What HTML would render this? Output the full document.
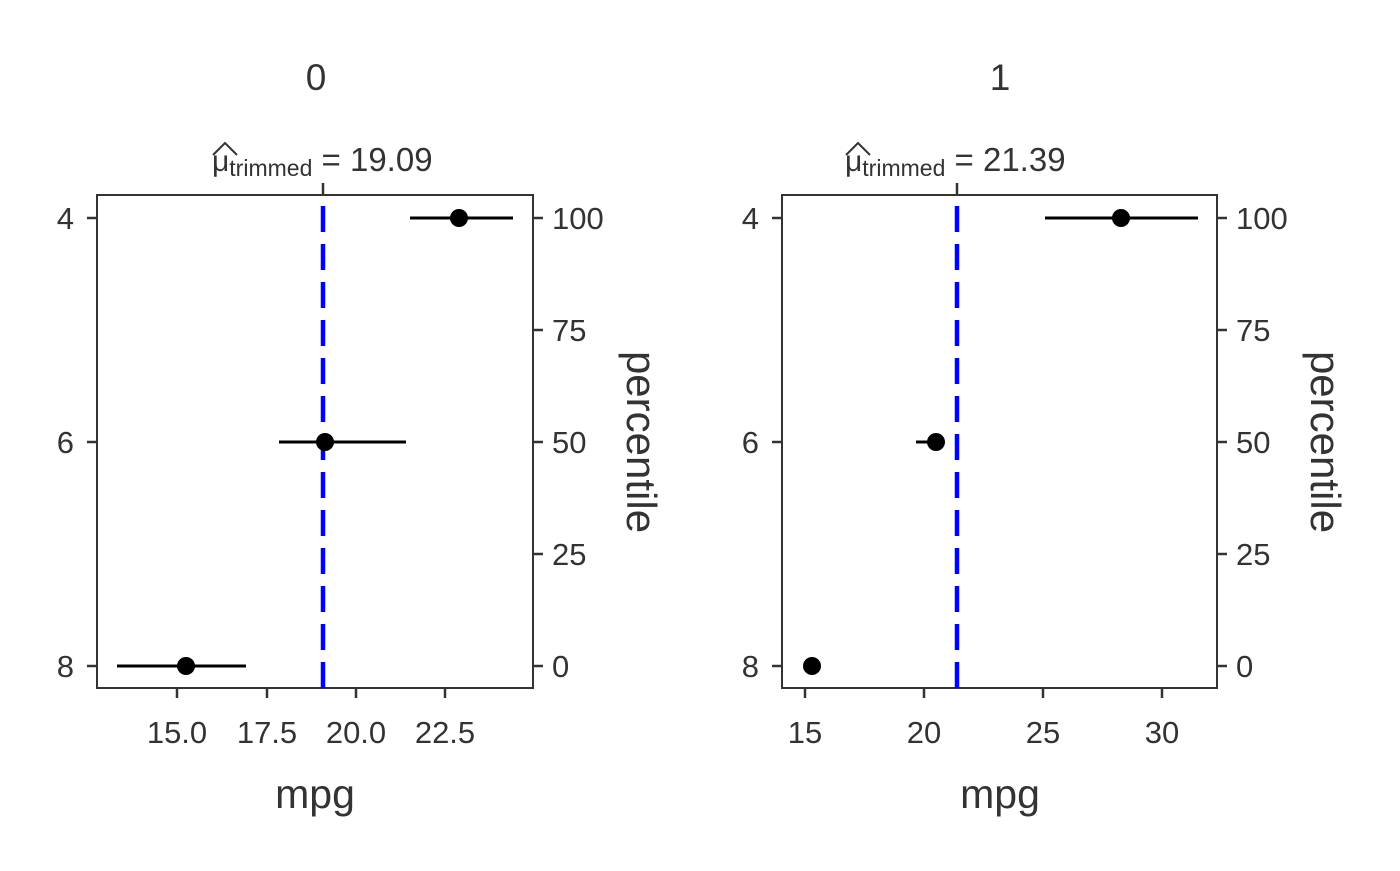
<!DOCTYPE html>
<html><head><style>body{margin:0;background:#fff}</style></head><body>
<svg width="1400" height="866" xmlns="http://www.w3.org/2000/svg" font-family="Liberation Sans, sans-serif" fill="#333">
<rect width="1400" height="866" fill="#fff"/>
<g id="p1">
<text x="316" y="90" font-size="37" text-anchor="middle">0</text>
<text x="212" y="171" font-size="30">μ<tspan font-size="23" dy="5">trimmed</tspan><tspan font-size="33" dy="-5"> = 19.09</tspan></text>
<path d="M213 155 L225 143 L237 155" fill="none" stroke="#333" stroke-width="2"/>
<line x1="323" y1="183" x2="323" y2="195" stroke="#333" stroke-width="2.5"/>
<rect x="97" y="195" width="436" height="493" fill="none" stroke="#333" stroke-width="2"/>
<line x1="323" y1="688" x2="323" y2="195" stroke="#00f" stroke-width="4.5" stroke-dasharray="26 12"/>
<g stroke="#000" stroke-width="3"><line x1="410" y1="218" x2="513" y2="218"/><line x1="279" y1="442" x2="406" y2="442"/><line x1="117" y1="666" x2="246" y2="666"/></g>
<g fill="#000"><circle cx="459" cy="218" r="9"/><circle cx="325" cy="442" r="9"/><circle cx="186" cy="666" r="9"/></g>
<g stroke="#333" stroke-width="2.5">
<line x1="87" y1="218" x2="97" y2="218"/><line x1="87" y1="442" x2="97" y2="442"/><line x1="87" y1="666" x2="97" y2="666"/>
<line x1="533" y1="218" x2="543" y2="218"/><line x1="533" y1="330" x2="543" y2="330"/><line x1="533" y1="442" x2="543" y2="442"/><line x1="533" y1="554" x2="543" y2="554"/><line x1="533" y1="666" x2="543" y2="666"/>
<line x1="177" y1="688" x2="177" y2="698"/><line x1="267" y1="688" x2="267" y2="698"/><line x1="356" y1="688" x2="356" y2="698"/><line x1="445" y1="688" x2="445" y2="698"/>
</g>
<g font-size="31">
<g text-anchor="end"><text x="74" y="229">4</text><text x="74" y="453">6</text><text x="74" y="677">8</text></g>
<g text-anchor="start"><text x="552" y="229">100</text><text x="552" y="341">75</text><text x="552" y="453">50</text><text x="552" y="565">25</text><text x="552" y="677">0</text></g>
<g text-anchor="middle"><text x="177" y="743">15.0</text><text x="267" y="743">17.5</text><text x="356" y="743">20.0</text><text x="445" y="743">22.5</text></g>
</g>
<text x="315" y="808" font-size="41" text-anchor="middle">mpg</text>
<text transform="translate(627,442) rotate(90)" font-size="42" text-anchor="middle">percentile</text>
</g>
<g id="p2">
<text x="1000" y="90" font-size="37" text-anchor="middle">1</text>
<text x="845" y="171" font-size="30">μ<tspan font-size="23" dy="5">trimmed</tspan><tspan font-size="33" dy="-5"> = 21.39</tspan></text>
<path d="M846 155 L858 143 L870 155" fill="none" stroke="#333" stroke-width="2"/>
<line x1="957" y1="183" x2="957" y2="195" stroke="#333" stroke-width="2.5"/>
<rect x="782" y="195" width="435" height="493" fill="none" stroke="#333" stroke-width="2"/>
<line x1="957" y1="688" x2="957" y2="195" stroke="#00f" stroke-width="4.5" stroke-dasharray="26 12"/>
<g stroke="#000" stroke-width="3"><line x1="1045" y1="218" x2="1198" y2="218"/><line x1="916" y1="442" x2="936" y2="442"/></g>
<g fill="#000"><circle cx="1121" cy="218" r="9"/><circle cx="936" cy="442" r="9"/><circle cx="812" cy="666" r="9"/></g>
<g stroke="#333" stroke-width="2.5">
<line x1="772" y1="218" x2="782" y2="218"/><line x1="772" y1="442" x2="782" y2="442"/><line x1="772" y1="666" x2="782" y2="666"/>
<line x1="1217" y1="218" x2="1227" y2="218"/><line x1="1217" y1="330" x2="1227" y2="330"/><line x1="1217" y1="442" x2="1227" y2="442"/><line x1="1217" y1="554" x2="1227" y2="554"/><line x1="1217" y1="666" x2="1227" y2="666"/>
<line x1="805" y1="688" x2="805" y2="698"/><line x1="924" y1="688" x2="924" y2="698"/><line x1="1043" y1="688" x2="1043" y2="698"/><line x1="1162" y1="688" x2="1162" y2="698"/>
</g>
<g font-size="31">
<g text-anchor="end"><text x="759" y="229">4</text><text x="759" y="453">6</text><text x="759" y="677">8</text></g>
<g text-anchor="start"><text x="1236" y="229">100</text><text x="1236" y="341">75</text><text x="1236" y="453">50</text><text x="1236" y="565">25</text><text x="1236" y="677">0</text></g>
<g text-anchor="middle"><text x="805" y="743">15</text><text x="924" y="743">20</text><text x="1043" y="743">25</text><text x="1162" y="743">30</text></g>
</g>
<text x="1000" y="808" font-size="41" text-anchor="middle">mpg</text>
<text transform="translate(1311,442) rotate(90)" font-size="42" text-anchor="middle">percentile</text>
</g>
</svg>
</body></html>
